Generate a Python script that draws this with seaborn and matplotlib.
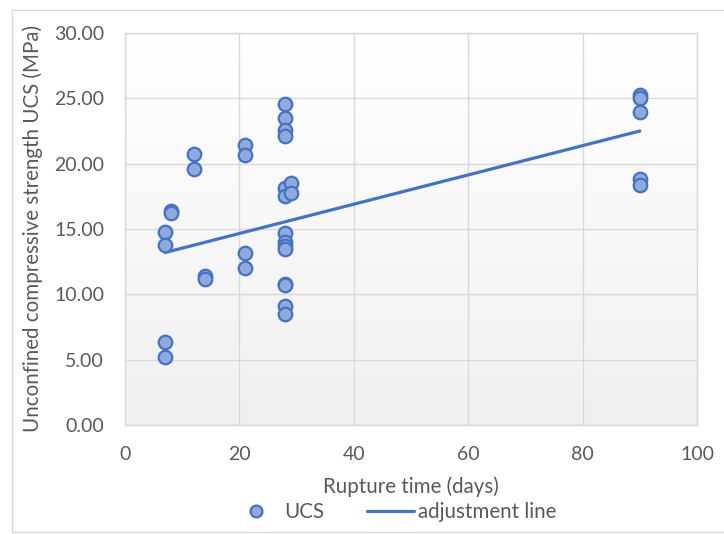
import numpy as np
import pandas as pd
import matplotlib
matplotlib.use("Agg")
import matplotlib.pyplot as plt
import seaborn as sns
from matplotlib.lines import Line2D
from matplotlib.patches import Rectangle
from matplotlib.colors import LinearSegmentedColormap

# ---- data ----
days = [7, 7, 7, 7,
        8, 8,
        12, 12,
        14, 14,
        21, 21, 21, 21,
        28, 28, 28, 28, 28, 28, 28, 28, 28, 28, 28, 28, 28, 28,
        29, 29,
        90, 90, 90, 90, 90]
ucs = [14.74, 13.77, 6.36, 5.18,
       16.4, 16.2,
       20.77, 19.56,
       11.4, 11.15,
       21.46, 20.64, 13.2, 12.05,
       24.54, 23.51, 22.56, 22.1, 18.1, 17.5, 14.67, 13.97, 13.7, 13.46, 10.8, 10.72, 9.1, 8.46,
       18.5, 17.75,
       25.26, 25.0, 23.97, 18.85, 18.38]
fit_x = [7, 90]
fit_y = [13.2, 22.5]
x_ticks = [0, 20, 40, 60, 80, 100]
y_ticks = [0, 5, 10, 15, 20, 25, 30]

sns.set_theme(style="white")
plt.rcParams['font.family'] = ['Lato', 'DejaVu Sans']

blue = "#4472c4"
fill = "#8faadc"
grey_txt = "#595959"
grid_c = "#d9d9d9"

fig = plt.figure(figsize=(7.24, 5.34), dpi=100)
fig.patches.append(Rectangle((12/724, 2/534), 1.0, 522/534, transform=fig.transFigure,
                             fill=False, edgecolor="#d9d9d9", linewidth=1.0, zorder=0))
ax = fig.add_axes([125/724, 1 - 425/534, (697-125)/724, (425-33)/534])

# gradient background
grad = np.linspace(0, 1, 256).reshape(-1, 1)
cmap = LinearSegmentedColormap.from_list("bg", ["#f0f0f0", "#ffffff"])
ax.imshow(grad, extent=[0, 100, 0, 30], origin="lower", aspect="auto", cmap=cmap, zorder=0)

df = pd.DataFrame({"days": days, "ucs": ucs})
sns.scatterplot(data=df, x="days", y="ucs", ax=ax, s=95, color=fill, edgecolor=blue,
                linewidth=1.6, zorder=3, legend=False)
sns.lineplot(x=fit_x, y=fit_y, ax=ax, color=blue, linewidth=2.3, zorder=2)

ax.set_xlim(0, 100)
ax.set_ylim(0, 30)
ax.set_xticks(x_ticks)
ax.set_yticks(y_ticks)
ax.set_yticklabels([f"{v:.2f}" for v in y_ticks])
ax.set_xticklabels([str(v) for v in x_ticks])
ax.tick_params(axis="both", colors=grey_txt, labelsize=14, length=0)
ax.tick_params(axis="y", pad=15)
ax.tick_params(axis="x", pad=15)
ax.grid(True, color=grid_c, linewidth=1.0, zorder=1)
ax.set_axisbelow(True)
for sp in ax.spines.values():
    sp.set_color(grid_c)
    sp.set_linewidth(1.0)

ax.set_xlabel("Rupture time (days)", color=grey_txt, fontsize=14.8, labelpad=10)
ax.set_ylabel("Unconfined compressive strength UCS (MPa)", color=grey_txt, fontsize=14.8, labelpad=8)

handles = [Line2D([], [], marker="o", linestyle="none", markersize=8.5, markerfacecolor=fill,
                  markeredgecolor=blue, markeredgewidth=1.6),
           Line2D([], [], color=blue, linewidth=2.3)]
fig.legend(handles, ["UCS", "adjustment line"], loc="center", bbox_to_anchor=(0.545, 1 - 512/534),
           ncol=2, frameon=False, fontsize=14.8, labelcolor=grey_txt, handlelength=2.3,
           columnspacing=2.1, handletextpad=0.2)

fig.savefig("out.png", dpi=100)
